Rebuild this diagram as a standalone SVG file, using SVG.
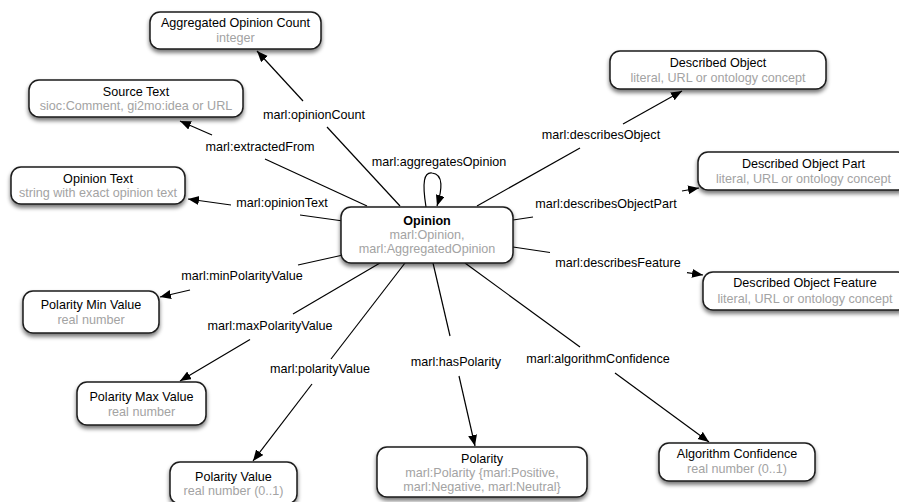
<svg xmlns="http://www.w3.org/2000/svg" width="899" height="502" viewBox="0 0 899 502">
<defs>
<filter id="sh" x="-10%" y="-20%" width="120%" height="160%">
<feGaussianBlur in="SourceAlpha" stdDeviation="2"/>
<feOffset dx="0" dy="3" result="b"/>
<feComponentTransfer><feFuncA type="linear" slope="0.55"/></feComponentTransfer>
<feMerge><feMergeNode/><feMergeNode in="SourceGraphic"/></feMerge>
</filter>
<marker id="ah" markerUnits="userSpaceOnUse" markerWidth="12" markerHeight="10" refX="11" refY="4.5" orient="auto">
<path d="M0,0 L11,4.5 L0,9 z" fill="#000"/>
</marker>
</defs>
<style>
.box{fill:#fff;stroke:#1a1a1a;stroke-width:1.5;filter:url(#sh)}
text{font-family:"Liberation Sans",Arial,Helvetica,sans-serif;font-size:12.6px;text-anchor:middle}
.t{fill:#000}
.s{fill:#a3a3a3}
.b{font-weight:bold}
.lbl{fill:#000}
.c{fill:none;stroke:#000;stroke-width:1.2}
.a{marker-end:url(#ah)}
</style>
<rect width="899" height="502" fill="#fff"/>

<g id="connectors">
<g id="e-opinionCount"><path class="c" d="M400,206 L327,127"/><path class="c a" d="M303,101 L257,51"/><text class="lbl" x="314" y="119">marl:opinionCount</text></g>
<g id="e-extractedFrom"><path class="c" d="M367,206 L265,159"/><path class="c a" d="M212,135 L180,121"/><text class="lbl" x="260" y="151">marl:extractedFrom</text></g>
<g id="e-opinionText"><path class="c" d="M343,221 L300,215"/><path class="c a" d="M231,205 L188,199"/><text class="lbl" x="282" y="207">marl:opinionText</text></g>
<g id="e-aggregatesOpinion"><path class="c a" d="M426,207 C422,182 424,172 432,173 C444,174 442,190 437,206"/><text class="lbl" x="439" y="166">marl:aggregatesOpinion</text></g>
<g id="e-describesObject"><path class="c" d="M477,206 L580,148"/><path class="c a" d="M623,124 L682,91"/><text class="lbl" x="601" y="139">marl:describesObject</text></g>
<g id="e-describesObjectPart"><path class="c" d="M513,220 L533,217"/><path class="c a" d="M682,191 L699,188"/><text class="lbl" x="606" y="208">marl:describesObjectPart</text></g>
<g id="e-describesFeature"><path class="c" d="M513,247 L550,252.5"/><path class="c a" d="M687,272.6 L703,275"/><text class="lbl" x="618" y="267">marl:describesFeature</text></g>
<g id="e-minPolarityValue"><path class="c" d="M343,255 L298,265"/><path class="c a" d="M190,290 L160,297"/><text class="lbl" x="242" y="280">marl:minPolarityValue</text></g>
<g id="e-maxPolarityValue"><path class="c" d="M380,263 L293,314"/><path class="c a" d="M250,339.5 L180,381"/><text class="lbl" x="270" y="330">marl:maxPolarityValue</text></g>
<g id="e-polarityValue"><path class="c" d="M405,263 L331,359"/><path class="c a" d="M312,384 L253,461"/><text class="lbl" x="320" y="373">marl:polarityValue</text></g>
<g id="e-hasPolarity"><path class="c" d="M433,263 L450,336"/><path class="c a" d="M459,376 L475,446"/><text class="lbl" x="456" y="366">marl:hasPolarity</text></g>
<g id="e-algorithmConfidence"><path class="c" d="M465,263 L580,347"/><path class="c a" d="M615,373 L709,442"/><text class="lbl" x="598" y="363">marl:algorithmConfidence</text></g>
</g>

<g id="n-opinion"><rect class="box" x="341" y="207" width="172" height="56" rx="10"/><text class="t b" x="427" y="225">Opinion</text><text class="s" x="427" y="239">marl:Opinion,</text><text class="s" x="427" y="253">marl:AggregatedOpinion</text></g>
<g id="n-aggregatedOpinionCount"><rect class="box" x="150" y="12" width="171" height="37" rx="10"/><text class="t" x="235.5" y="27">Aggregated Opinion Count</text><text class="s" x="235.5" y="42">integer</text></g>
<g id="n-sourceText"><rect class="box" x="29" y="80" width="214" height="37" rx="10"/><text class="t" x="136" y="96">Source Text</text><text class="s" x="136" y="110">sioc:Comment, gi2mo:idea or URL</text></g>
<g id="n-opinionText"><rect class="box" x="11" y="167" width="174" height="37" rx="10"/><text class="t" x="98" y="183">Opinion Text</text><text class="s" x="98" y="197">string with exact opinion text</text></g>
<g id="n-polarityMinValue"><rect class="box" x="23" y="291" width="136" height="42" rx="10"/><text class="t" x="91" y="309">Polarity Min Value</text><text class="s" x="91" y="324">real number</text></g>
<g id="n-polarityMaxValue"><rect class="box" x="77" y="382" width="129" height="43" rx="10"/><text class="t" x="141.5" y="401">Polarity Max Value</text><text class="s" x="141.5" y="416">real number</text></g>
<g id="n-polarityValue"><rect class="box" x="170" y="462" width="127" height="42" rx="10"/><text class="t" x="233.5" y="481">Polarity Value</text><text class="s" x="233.5" y="495">real number (0..1)</text></g>
<g id="n-polarity"><rect class="box" x="377" y="447" width="210" height="50" rx="10"/><text class="t" x="482" y="463">Polarity</text><text class="s" x="482" y="477">marl:Polarity {marl:Positive,</text><text class="s" x="482" y="491">marl:Negative, marl:Neutral}</text></g>
<g id="n-algorithmConfidence"><rect class="box" x="659" y="443" width="156" height="38" rx="10"/><text class="t" x="737" y="458">Algorithm Confidence</text><text class="s" x="737" y="473">real number (0..1)</text></g>
<g id="n-describedObject"><rect class="box" x="610" y="51" width="216" height="38" rx="10"/><text class="t" x="718" y="67">Described Object</text><text class="s" x="718" y="82">literal, URL or ontology concept</text></g>
<g id="n-describedObjectPart"><rect class="box" x="698" y="152" width="210" height="38" rx="10"/><text class="t" x="803.5" y="168">Described Object Part</text><text class="s" x="803.5" y="183">literal, URL or ontology concept</text></g>
<g id="n-describedObjectFeature"><rect class="box" x="703" y="272" width="205" height="38" rx="10"/><text class="t" x="805" y="287">Described Object Feature</text><text class="s" x="805" y="303">literal, URL or ontology concept</text></g>
</svg>
